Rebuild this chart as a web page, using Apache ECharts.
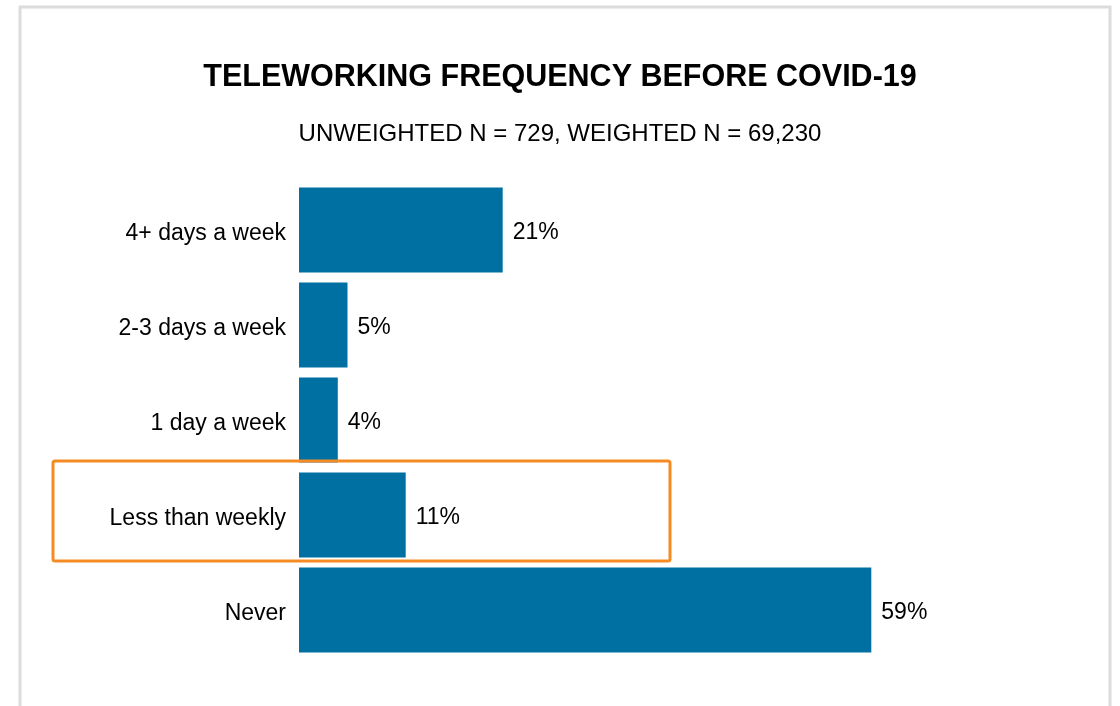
<!DOCTYPE html>
<html>
<head>
<meta charset="utf-8">
<script src="https://cdn.jsdelivr.net/npm/echarts@6/dist/echarts.min.js"></script>
<style>
    html, body { margin: 0; padding: 0; background: #fff; }
    #chart { width: 1120px; height: 706px; }
</style>
</head>
<body>
<div id="chart"></div>
<script>
    // 数据
    var categories = ['4+ days a week', '2-3 days a week', '1 day a week', 'Less than weekly', 'Never'];
    var shares = [21, 5, 4, 11, 59];
    var highlightCat = 'Less than weekly';

    var titleText = 'TELEWORKING FREQUENCY BEFORE COVID-19';
    var subText = 'UNWEIGHTED N = 729, WEIGHTED N = 69,230';

    var chart = echarts.init(document.getElementById('chart'), null, { renderer: 'canvas' });
    var font = 'Liberation Sans, Arial, sans-serif';

    var option = {
        backgroundColor: '#fff',
        animation: false,
        title: {
            text: titleText,
            subtext: subText,
            left: 'center',
            top: 57,
            itemGap: 29,
            textStyle: { fontFamily: font, fontSize: 30.5, fontWeight: 'bold', color: '#000' },
            subtextStyle: { fontFamily: font, fontSize: 24, color: '#000' }
        },
        grid: { left: 299, right: 45, top: 182.5, bottom: 48.5, containLabel: false },
        xAxis: {
            type: 'value',
            min: 0,
            max: 80,
            show: false
        },
        yAxis: {
            type: 'category',
            data: categories,
            inverse: true,
            axisLine: { show: false },
            axisTick: { show: false },
            axisLabel: {
                fontFamily: font, fontSize: 23, color: '#000', margin: 13,
                verticalAlign: 'top', lineHeight: 8
            }
        },
        series: [{
            type: 'bar',
            data: shares,
            barCategoryGap: '10.5%',
            itemStyle: { color: '#0070A2' },
            label: {
                show: true,
                position: 'right',
                distance: 10,
                fontFamily: font,
                fontSize: 23,
                color: '#000',
                verticalAlign: 'top',
                lineHeight: 6,
                formatter: function (p) { return p.value + '%'; }
            }
        }]
    };
    chart.setOption(option);

    // 外框 + 高亮框
    var cy = chart.convertToPixel({ yAxisIndex: 0 }, highlightCat);
    chart.setOption({
        graphic: [
            {
                type: 'rect',
                shape: { x: 20, y: 7, width: 1090, height: 720 },
                style: { fill: 'none', stroke: '#dcdcdc', lineWidth: 3 },
                silent: true
            },
            {
                type: 'rect',
                shape: { x: 53, y: cy - 54, width: 617, height: 100, r: 2 },
                style: { fill: 'none', stroke: '#F58C23', lineWidth: 3 },
                z: 100,
                silent: true
            }
        ]
    });
</script>
</body>
</html>
